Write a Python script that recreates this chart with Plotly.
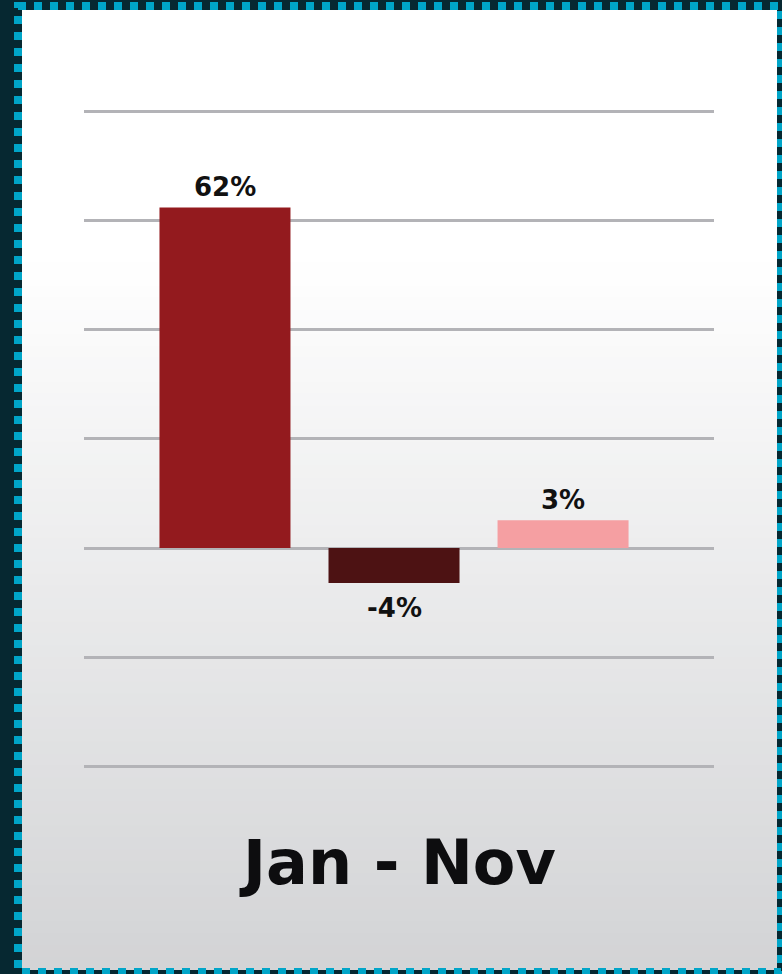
import plotly.graph_objects as go

# データ
periods = ["A", "B", "C"]
changes = [62.4, -6.4, 5.1]
labels = ["62%", "-4%", "3%"]
bar_colors = ["#931a1e", "#4d1213", "#f59fa2"]
title_text = "Jan - Nov"

W, H = 782, 974
L, R, T, B = 84, 68, 100, 194
PW, PH = W - L - R, H - T - B


def px(x):
    return (x - L) / PW


def py(y):
    return (H - B - y) / PH


def mix(c1, c2, t):
    return "#%02x%02x%02x" % tuple(int(round(a + (b - a) * t)) for a, b in zip(c1, c2))


fig = go.Figure()
fig.add_trace(go.Bar(
    x=list(range(len(periods))),
    y=changes,
    marker=dict(color=bar_colors, line=dict(width=0)),
    width=0.775,
    hoverinfo="skip",
))

# 値ラベル
label_font = dict(family="DejaVu Sans", size=26, color="#111111", weight="bold")
annotations = []
for i, (v, lab) in enumerate(zip(changes, labels)):
    annotations.append(dict(x=i, y=v, text=lab, showarrow=False, font=label_font,
                            yanchor="bottom" if v >= 0 else "top",
                            yshift=3 if v >= 0 else -8))
annotations.append(dict(text=title_text, xref="paper", yref="paper",
                        x=px(397), y=py(862), xanchor="center", yanchor="middle",
                        showarrow=False,
                        font=dict(family="DejaVu Sans", size=62, color="#0d0d0f", weight="bold")))

# パネル背景（グラデーション）
shapes = []
top, bot = 10, 969
n = 80
for i in range(n):
    y0 = top + (bot - top) * i / n
    y1 = top + (bot - top) * (i + 1) / n
    t = max(0.0, (y0 - 250) / (bot - 250))
    col = mix((255, 255, 255), (210, 211, 213), t)
    shapes.append(dict(type="rect", xref="paper", yref="paper", layer="below",
                       x0=px(22), x1=px(777), y0=py(y0), y1=py(y1 + 1),
                       fillcolor=col, line=dict(width=0)))
# 点線の枠
shapes.append(dict(type="rect", xref="paper", yref="paper", layer="below",
                   x0=px(18), x1=px(781), y0=py(6), y1=py(972),
                   line=dict(color="#00a5c8", width=8, dash="8px,8px")))

fig.update_layout(
    width=W, height=H,
    margin=dict(l=L, r=R, t=T, b=B),
    paper_bgcolor="#062831",
    plot_bgcolor="rgba(0,0,0,0)",
    showlegend=False,
    shapes=shapes,
    annotations=annotations,
    xaxis=dict(range=[-0.834, 2.893], showgrid=False, showticklabels=False,
               zeroline=False, fixedrange=True),
    yaxis=dict(range=[-42.5, 82.08], tickvals=[-40, -20, 0, 20, 40, 60, 80],
               showticklabels=False, gridcolor="#b3b3b7", gridwidth=3,
               zeroline=False, fixedrange=True),
)

fig.write_html("out.html", config={"displayModeBar": False},
               post_script="document.body.style.margin='0';document.body.style.background='#062831';")
